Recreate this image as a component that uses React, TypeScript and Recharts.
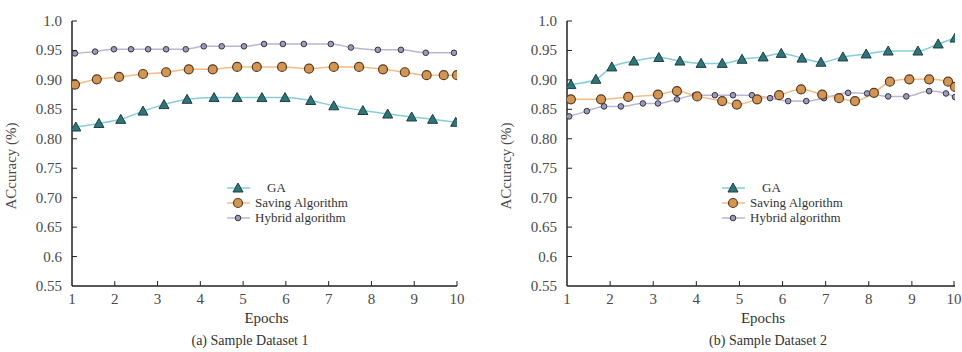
import { LineChart, Line, XAxis, YAxis, Legend, Label } from 'recharts';

// Sample Dataset 1
const ga1X = [1.09, 1.63, 2.14, 2.66, 3.15, 3.69, 4.32, 4.86, 5.44, 5.98, 6.58, 7.12, 7.8, 8.38, 8.94, 9.43, 9.97];
const ga1Y = [0.82, 0.826, 0.833, 0.847, 0.858, 0.867, 0.87, 0.87, 0.87, 0.87, 0.865, 0.856, 0.848, 0.842, 0.837, 0.833, 0.828];
const sav1X = [1.07, 1.58, 2.1, 2.66, 3.2, 3.73, 4.29, 4.86, 5.32, 5.91, 6.54, 7.12, 7.71, 8.27, 8.78, 9.29, 9.69, 10];
const sav1Y = [0.892, 0.901, 0.905, 0.91, 0.913, 0.918, 0.918, 0.922, 0.922, 0.922, 0.919, 0.922, 0.922, 0.918, 0.913, 0.908, 0.908, 0.908];
const hyb1X = [1.07, 1.54, 1.98, 2.38, 2.78, 3.2, 3.66, 4.08, 4.5, 5.02, 5.49, 5.93, 6.42, 7.05, 7.52, 8.15, 8.69, 9.27, 9.93];
const hyb1Y = [0.945, 0.948, 0.952, 0.952, 0.952, 0.952, 0.952, 0.957, 0.957, 0.957, 0.961, 0.961, 0.961, 0.961, 0.955, 0.951, 0.951, 0.946, 0.946];

// Sample Dataset 2
const ga2X = [1.09, 1.67, 2.04, 2.55, 3.13, 3.62, 4.11, 4.6, 5.06, 5.55, 5.97, 6.45, 6.89, 7.4, 7.94, 8.45, 9.14, 9.61, 10];
const ga2Y = [0.892, 0.901, 0.922, 0.932, 0.938, 0.932, 0.928, 0.928, 0.935, 0.939, 0.945, 0.937, 0.93, 0.939, 0.944, 0.949, 0.949, 0.961, 0.971];
const sav2X = [1.09, 1.79, 2.42, 3.11, 3.55, 4.02, 4.6, 4.94, 5.41, 5.92, 6.43, 6.92, 7.31, 7.68, 8.12, 8.49, 8.94, 9.4, 9.84, 10];
const sav2Y = [0.867, 0.867, 0.871, 0.875, 0.881, 0.872, 0.864, 0.858, 0.867, 0.874, 0.884, 0.875, 0.869, 0.864, 0.878, 0.897, 0.901, 0.901, 0.897, 0.888];
const hyb2X = [1.05, 1.46, 1.86, 2.25, 2.76, 3.11, 3.55, 3.97, 4.43, 4.85, 5.29, 5.71, 6.13, 6.55, 6.96, 7.52, 7.96, 8.45, 8.87, 9.4, 9.79, 10];
const hyb2Y = [0.838, 0.847, 0.855, 0.855, 0.86, 0.86, 0.867, 0.874, 0.874, 0.874, 0.874, 0.869, 0.864, 0.864, 0.869, 0.878, 0.877, 0.872, 0.872, 0.881, 0.877, 0.871];

const X_TICKS = [1, 2, 3, 4, 5, 6, 7, 8, 9, 10];
const Y_TICKS = [0.55, 0.6, 0.65, 0.7, 0.75, 0.8, 0.85, 0.9, 0.95, 1.0];
const Y_TICK_LABELS = ['0.55', '0.6', '0.65', '0.70', '0.75', '0.80', '0.85', '0.90', '0.95', '1.0'];

const FONT = "'Liberation Serif', 'Times New Roman', 'DejaVu Serif', serif";
const TEXT = '#4a4a4a';
const AXIS = '#222';

const GA_LINE = '#86cdd6';
const GA_FILL = '#2f7479';
const SAV_LINE = '#f6bb88';
const SAV_FILL = '#d39554';
const HYB_LINE = '#bbb6d2';
const HYB_FILL = '#9d9bb5';

const zip = (xs: number[], ys: number[]) => xs.map((x, i) => ({ x, y: ys[i] }));

function Triangle({ cx, cy }: { cx: number; cy: number }) {
  const s = 5;
  return (
    <path
      d={`M${cx},${cy - s} L${cx + s},${cy + s * 0.8} L${cx - s},${cy + s * 0.8} Z`}
      fill={GA_FILL}
      stroke="#1d3f42"
      strokeWidth={1}
    />
  );
}

function OrangeDot({ cx, cy }: { cx: number; cy: number }) {
  return <circle cx={cx} cy={cy} r={4.5} fill={SAV_FILL} stroke="#5b3b1e" strokeWidth={1.2} />;
}

function SmallDot({ cx, cy }: { cx: number; cy: number }) {
  return <circle cx={cx} cy={cy} r={2.8} fill={HYB_FILL} stroke="#34344a" strokeWidth={1} />;
}

function YTick(props: any) {
  const { x, y, payload } = props;
  const idx = Y_TICKS.indexOf(payload.value);
  return (
    <g>
      {payload.value > 0.55 && <line x1={x} x2={x + 5} y1={y} y2={y} stroke={AXIS} strokeWidth={1} />}
      <text x={x - 10} y={y} dy={5} textAnchor="end" style={{ fontFamily: FONT, fontSize: 15 }} fill={TEXT}>
        {Y_TICK_LABELS[idx]}
      </text>
    </g>
  );
}

function XTick(props: any) {
  const { x, y, payload } = props;
  return (
    <g>
      {payload.value > 1 && <line x1={x} x2={x} y1={y} y2={y - 5} stroke={AXIS} strokeWidth={1} />}
      <text x={x} y={y} dy={18} textAnchor="middle" style={{ fontFamily: FONT, fontSize: 15 }} fill={TEXT}>
        {payload.value}
      </text>
    </g>
  );
}

function LegendBox({ rowGap }: { rowGap: number }) {
  const rows = [
    { name: 'GA', line: GA_LINE, Mark: Triangle, indent: 40 },
    { name: 'Saving Algorithm', line: SAV_LINE, Mark: OrangeDot, indent: 28 },
    { name: 'Hybrid algorithm', line: HYB_LINE, Mark: SmallDot, indent: 28 },
  ];
  return (
    <svg width={170} height={48} style={{ overflow: 'visible' }}>
      {rows.map((r, i) => {
        const cy = 8 + i * rowGap;
        return (
          <g key={r.name}>
            <line x1={0} x2={23} y1={cy} y2={cy} stroke={r.line} strokeWidth={1.5} />
            <r.Mark cx={11} cy={cy} />
            <text x={r.indent} y={cy} dy={4} style={{ fontFamily: FONT, fontSize: 13 }} fill="#333">
              {r.name}
            </text>
          </g>
        );
      })}
    </svg>
  );
}

interface PanelProps {
  ga: { x: number; y: number }[];
  sav: { x: number; y: number }[];
  hyb: { x: number; y: number }[];
  caption: string;
  captionX: number;
  marginLeft: number;
  marginRight: number;
  legendLeft: number;
  legendTop: number;
  rowGap: number;
}

function Panel(p: PanelProps) {
  return (
    <LineChart
      width={481}
      height={352}
      margin={{ top: 21, right: p.marginRight, bottom: 36, left: p.marginLeft }}
    >
      <XAxis
        type="number"
        dataKey="x"
        domain={[1, 10]}
        ticks={X_TICKS}
        allowDataOverflow
        height={30}
        tickSize={0}
        tickMargin={0}
        tickLine={false}
        tick={<XTick />}
        axisLine={{ stroke: AXIS, strokeWidth: 1.5 }}
      >
        <Label
          content={(lp: any) => {
            const vb = lp.viewBox;
            const cx = vb.x + vb.width / 2;
            return (
              <g>
                <text x={cx + 2} y={vb.y + 37} textAnchor="middle" style={{ fontFamily: FONT, fontSize: 15 }} fill="#333">
                  Epochs
                </text>
                <text x={p.captionX} y={vb.y + 59} textAnchor="middle" style={{ fontFamily: FONT, fontSize: 14 }} fill="#333">
                  {p.caption}
                </text>
              </g>
            );
          }}
        />
      </XAxis>
      <YAxis
        type="number"
        dataKey="y"
        domain={[0.55, 1.0]}
        ticks={Y_TICKS}
        allowDataOverflow
        width={72}
        tickSize={0}
        tickMargin={0}
        tickLine={false}
        tick={<YTick />}
        axisLine={{ stroke: AXIS, strokeWidth: 1.5 }}
      >
        <Label
          content={(lp: any) => {
            const vb = lp.viewBox;
            const lx = vb.x + 16;
            const ly = 166;
            return (
              <text
                x={lx}
                y={ly}
                transform={`rotate(-90, ${lx}, ${ly})`}
                textAnchor="middle"
                style={{ fontFamily: FONT, fontSize: 15 }}
                fill={TEXT}
              >
                ACcuracy (%)
              </text>
            );
          }}
        />
      </YAxis>
      <Legend
        layout="horizontal"
        align="center"
        verticalAlign="middle"
        content={() => <LegendBox rowGap={p.rowGap} />}
        wrapperStyle={{ position: 'absolute', left: p.legendLeft, top: p.legendTop, width: 170, bottom: 'auto' }}
      />
      <Line
        data={p.hyb}
        dataKey="y"
        name="Hybrid algorithm"
        type="monotone"
        stroke={HYB_LINE}
        strokeWidth={1.5}
        dot={(d: any) => <SmallDot key={`h${d.index}`} cx={d.cx} cy={d.cy} />}
        isAnimationActive={false}
      />
      <Line
        data={p.sav}
        dataKey="y"
        name="Saving Algorithm"
        type="monotone"
        stroke={SAV_LINE}
        strokeWidth={1.5}
        dot={(d: any) => <OrangeDot key={`s${d.index}`} cx={d.cx} cy={d.cy} />}
        isAnimationActive={false}
      />
      <Line
        data={p.ga}
        dataKey="y"
        name="GA"
        type="monotone"
        stroke={GA_LINE}
        strokeWidth={1.5}
        dot={(d: any) => <Triangle key={`g${d.index}`} cx={d.cx} cy={d.cy} />}
        isAnimationActive={false}
      />
    </LineChart>
  );
}

export default function App() {
  return (
    <div style={{ position: 'absolute', left: 0, top: 0, width: 962, height: 352, background: '#fff' }}>
      <div style={{ position: 'absolute', left: 0, top: 0 }}>
        <Panel
          ga={zip(ga1X, ga1Y)}
          sav={zip(sav1X, sav1Y)}
          hyb={zip(hyb1X, hyb1Y)}
          caption="(a) Sample Dataset 1"
          captionX={250}
          marginLeft={0}
          marginRight={24}
          legendLeft={227}
          legendTop={180}
          rowGap={15}
        />
      </div>
      <div style={{ position: 'absolute', left: 481, top: 0 }}>
        <Panel
          ga={zip(ga2X, ga2Y)}
          sav={zip(sav2X, sav2Y)}
          hyb={zip(hyb2X, hyb2Y)}
          caption="(b) Sample Dataset 2"
          captionX={287}
          marginLeft={14}
          marginRight={7}
          legendLeft={241}
          legendTop={180}
          rowGap={15}
        />
      </div>
    </div>
  );
}
